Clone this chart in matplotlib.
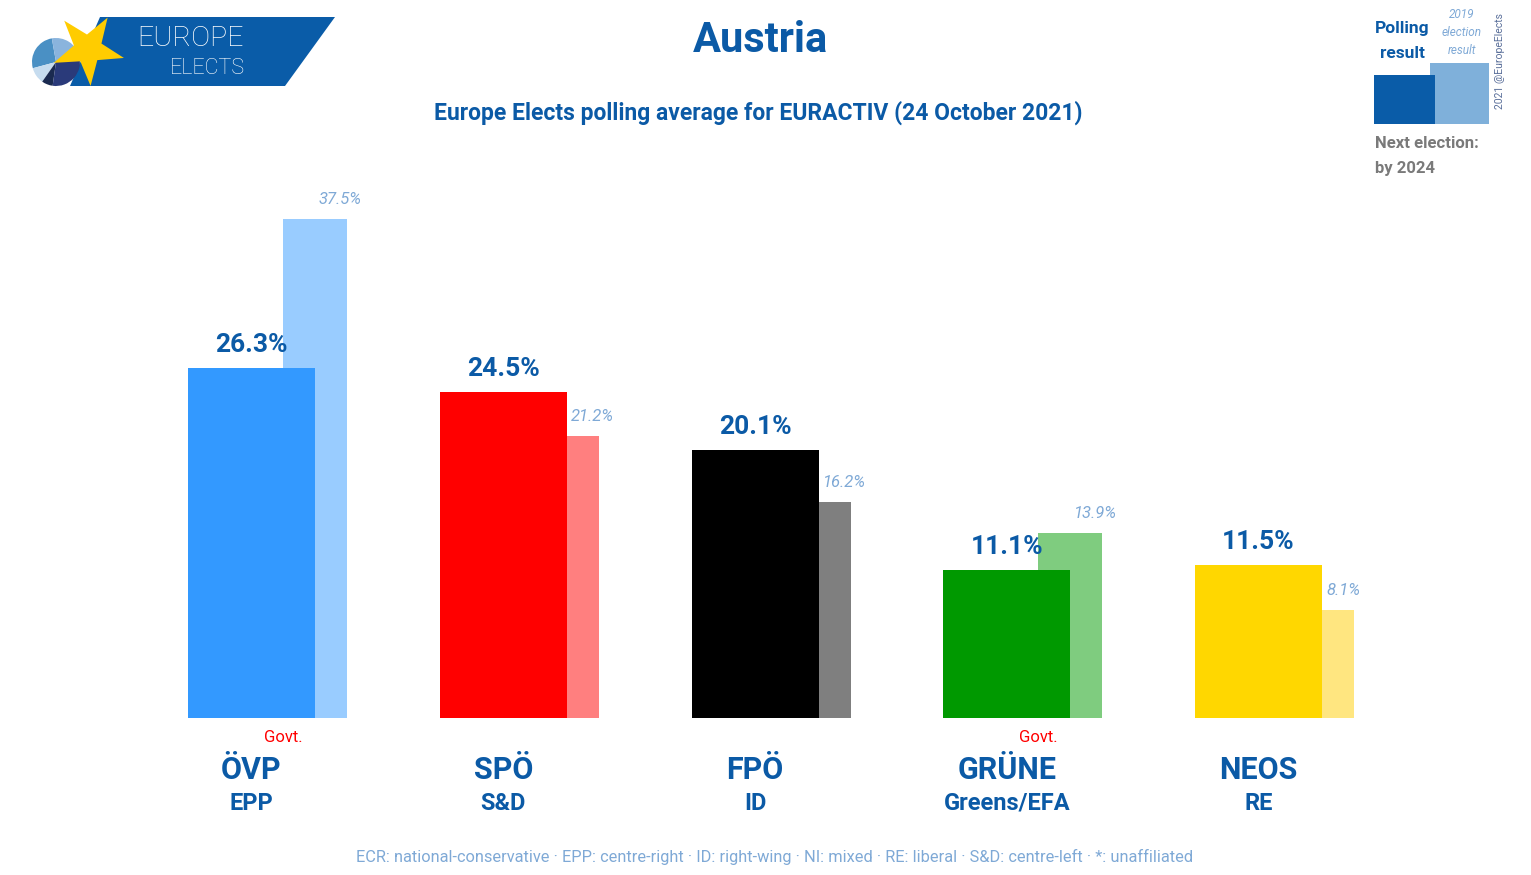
import numpy as np
import matplotlib
matplotlib.use("Agg")
from matplotlib import pyplot as plt
from matplotlib.patches import Polygon, Wedge, Rectangle

# data
parties = ["ÖVP", "SPÖ", "FPÖ", "GRÜNE", "NEOS"]
groups = ["EPP", "S&D", "ID", "Greens/EFA", "RE"]
poll = [26.3, 24.5, 20.1, 11.1, 11.5]
election_2019 = [37.5, 21.2, 16.2, 13.9, 8.1]
in_govt = [True, False, False, True, False]
main_colors = ["#3399FF", "#FF0000", "#000000", "#009900", "#FFD700"]
light_colors = ["#99CCFF", "#FF7F7F", "#7F7F7F", "#7FCC7F", "#FFE680"]

BLUE = "#0b5aa6"
LIGHT = "#7fa9d6"
plt.rcParams["font.family"] = ["Roboto", "DejaVu Sans"]

W, H = 1531, 875
PT = 0.72  # points per pixel at dpi 100
fig = plt.figure(figsize=(W / 100, H / 100), dpi=100)

# bar axes: baseline at y=718 px, 13.31 px per percent
base_px = 718
px_per_pct = 13.31
ymax = 40
ax = fig.add_axes([0, (H - base_px) / H, 1, ymax * px_per_pct / H])
step = 251.75
x0 = 251.5
ax.set_xlim((0 - x0) / step, (W - x0) / step)
ax.set_ylim(0, ymax)
ax.axis("off")

x = np.arange(len(parties))
main_w = 127 / step
light_w = 64 / step
light_off = 63.5 / step
govt_off = 31.5 / step

ax.bar(x + light_off, election_2019, width=light_w, color=light_colors, zorder=1)
ax.bar(x, poll, width=main_w, color=main_colors, zorder=2)

for i in range(len(parties)):
    ax.annotate(f"{poll[i]}%", (x[i], poll[i]), xytext=(0, 11 * PT), textcoords="offset points",
                ha="center", va="bottom", fontsize=19, fontweight="bold", color=BLUE)
    ax.annotate(f"{election_2019[i]}%", (x[i] + main_w / 2, election_2019[i]),
                xytext=(4 * PT, 12 * PT), textcoords="offset points", ha="left", va="bottom",
                fontsize=12, style="italic", color=LIGHT)
    ax.annotate(parties[i], (x[i], 0), xytext=(0, -52 * PT), textcoords="offset points",
                ha="center", va="center", fontsize=22, fontweight="bold", color=BLUE,
                annotation_clip=False)
    ax.annotate(groups[i], (x[i], 0), xytext=(0, -85 * PT), textcoords="offset points",
                ha="center", va="center", fontsize=17, fontweight="bold", color=BLUE,
                annotation_clip=False)
    if in_govt[i]:
        ax.annotate("Govt.", (x[i] + govt_off, 0), xytext=(0, -19 * PT),
                    textcoords="offset points", ha="center", va="center", fontsize=12,
                    color="#FF0000", annotation_clip=False)

# overlay in pixel coordinates for titles, logo and legend
ov = fig.add_axes([0, 0, 1, 1], zorder=5)
ov.set_xlim(0, W)
ov.set_ylim(H, 0)
ov.axis("off")
ov.patch.set_alpha(0)

ov.text(760, 40, "Austria", ha="center", va="center", fontsize=30, fontweight="bold", color=BLUE)
ov.text(758, 113, "Europe Elects polling average for EURACTIV (24 October 2021)",
        ha="center", va="center", fontsize=16.5, fontweight="bold", color=BLUE)
ov.text(775, 857, "ECR: national-conservative · EPP: centre-right · ID: right-wing · NI: mixed · "
        "RE: liberal · S&D: centre-left · *: unaffiliated",
        ha="center", va="center", fontsize=11.8, color=LIGHT)

# logo
ov.add_patch(Polygon([(100, 17), (335, 17), (285, 86), (70, 86)], closed=True,
                     color="#0a5ca8", lw=0))
cx, cy, r = 56, 62, 24
for a1, a2, c in [(100, 195, "#4a90c4"), (195, 235, "#c6dcef"), (235, 262, "#1a2a50"),
                  (262, 375, "#2a3a7a"), (15, 100, "#8ab4dd")]:
    ov.add_patch(Wedge((cx, cy), r, -a2, -a1, color=c, lw=0))
star = []
scx, scy, R, rr = 88, 49, 37, 14.5
for k in range(10):
    ang = np.deg2rad(-58 + k * 36)
    rad = R if k % 2 == 0 else rr
    star.append((scx + rad * np.cos(ang), scy + rad * np.sin(ang)))
ov.add_patch(Polygon(star, closed=True, color="#FFCC00", lw=0))
ov.text(190, 38, "EUROPE", ha="center", va="center", fontsize=20.5, color="white",
        fontweight="light")
ov.text(207, 68, "ELECTS", ha="center", va="center", fontsize=15.5, color="white",
        fontweight="light")

# legend box
ov.add_patch(Rectangle((1430, 63), 59, 61, color="#7fb0da", lw=0))
ov.add_patch(Rectangle((1374, 75), 61, 49, color="#0a5ca8", lw=0))
ov.text(1402, 28, "Polling", ha="center", va="center", fontsize=12.5, fontweight="bold", color=BLUE)
ov.text(1402, 53, "result", ha="center", va="center", fontsize=12.5, fontweight="bold", color=BLUE)
for yy, t in [(15, "2019"), (33, "election"), (50, "result")]:
    ov.text(1462, yy, t, ha="center", va="center", fontsize=8.5, style="italic", color=LIGHT)
ov.text(1500, 61, "2021 @EuropeElects", ha="center", va="center", rotation=90,
        fontsize=7.5, color="#5a6f9a")
ov.text(1375, 143, "Next election:", ha="left", va="center", fontsize=12, fontweight="bold",
        color="#7a7a7a")
ov.text(1375, 168, "by 2024", ha="left", va="center", fontsize=12, fontweight="bold",
        color="#7a7a7a")

fig.savefig("out.png", dpi=100, facecolor="white")
